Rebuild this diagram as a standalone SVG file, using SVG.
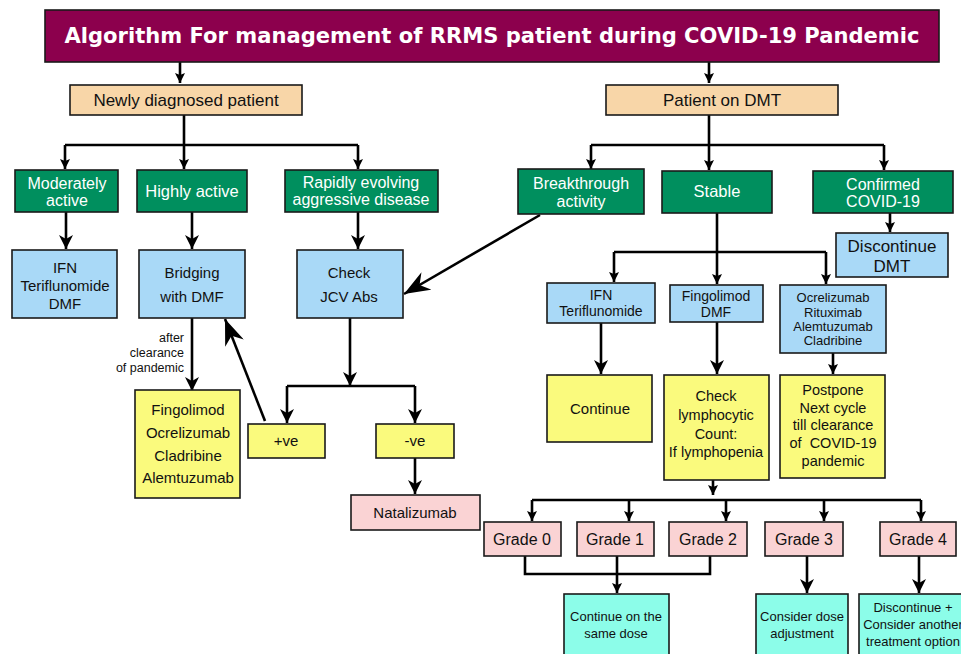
<svg xmlns="http://www.w3.org/2000/svg" width="961" height="654" viewBox="0 0 961 654">
<style>
.b{stroke:#1a1a1a;stroke-width:1.6}
.hd{fill:#8C004D}
.pe{fill:#F8D6A8}
.gr{fill:#008F5E}
.bl{fill:#A9D9F7}
.ye{fill:#FAFA7D}
.pk{fill:#FAD3D4}
.cy{fill:#8CFDE9}
text{font-family:"Liberation Sans",Arial,sans-serif;text-anchor:middle;fill:#111}
.w{fill:#fff}
.r{text-anchor:end}
.c path{fill:none;stroke:#000;stroke-width:2.6}
</style>
<defs>
<marker id="big" viewBox="0 0 14 14" refX="14" refY="7" markerWidth="14" markerHeight="14" markerUnits="userSpaceOnUse" orient="auto"><path d="M0,0 L14,7 L0,14 L4,7 z" fill="#000"/></marker>
<marker id="sm" viewBox="0 0 10 10" refX="10" refY="5" markerWidth="10" markerHeight="10" markerUnits="userSpaceOnUse" orient="auto"><path d="M0,0 L10,5 L0,10 L2,5 z" fill="#000"/></marker>
<marker id="hg" viewBox="0 0 26 20" refX="26" refY="10" markerWidth="26" markerHeight="20" markerUnits="userSpaceOnUse" orient="auto"><path d="M0,0 L26,10 L0,20 L8,10 z" fill="#000"/></marker>
</defs>

<g class="c">
<path d="M180,62 V83" marker-end="url(#sm)"/>
<path d="M709,62 V83" marker-end="url(#sm)"/>
<path d="M184,115 V145"/>
<path d="M65,145 H358"/>
<path d="M65,145 V169" marker-end="url(#sm)"/>
<path d="M184,145 V169" marker-end="url(#sm)"/>
<path d="M358,145 V169" marker-end="url(#sm)"/>
<path d="M709,115 V145"/>
<path d="M591,145 H884"/>
<path d="M591,145 V169" marker-end="url(#sm)"/>
<path d="M709,145 V170" marker-end="url(#sm)"/>
<path d="M884,145 V170" marker-end="url(#sm)"/>
<path d="M66,212 V249" marker-end="url(#big)"/>
<path d="M192,212 V249" marker-end="url(#big)"/>
<path d="M358,212 V249" marker-end="url(#big)"/>
<path d="M540,215 L404,294" stroke-width="3.2" marker-end="url(#hg)"/>
<path d="M890,213 V232" marker-end="url(#sm)"/>
<path d="M717,213 V252"/>
<path d="M614,252 H826"/>
<path d="M614,252 V282" marker-end="url(#sm)"/>
<path d="M717,252 V284" marker-end="url(#sm)"/>
<path d="M826,252 V284" marker-end="url(#sm)"/>
<path d="M601,323 V374" marker-end="url(#big)"/>
<path d="M717,322 V374" marker-end="url(#big)"/>
<path d="M833,353 V374" marker-end="url(#sm)"/>
<path d="M713,480 V495" marker-end="url(#sm)"/>
<path d="M532,500 H921"/>
<path d="M532,500 V521" marker-end="url(#sm)"/>
<path d="M629,500 V521" marker-end="url(#sm)"/>
<path d="M726,500 V521" marker-end="url(#sm)"/>
<path d="M824,500 V521" marker-end="url(#sm)"/>
<path d="M921,500 V521" marker-end="url(#sm)"/>
<path d="M525,556 V574 H710 V556" stroke-width="3.4"/>
<path d="M617,556 V593" marker-end="url(#sm)"/>
<path d="M807,556 V593" marker-end="url(#big)"/>
<path d="M919,556 V593" marker-end="url(#big)"/>
<path d="M192,318 V391" marker-end="url(#big)"/>
<path d="M265,421 L225,319" stroke-width="3.2" marker-end="url(#hg)"/>
<path d="M350,318 V386" marker-end="url(#big)"/>
<path d="M287,386 H415"/>
<path d="M287,386 V423" marker-end="url(#big)"/>
<path d="M415,386 V423" marker-end="url(#big)"/>
<path d="M415,458 V494" marker-end="url(#big)"/>
</g>

<g id="header"><rect class="b hd" x="45" y="10" width="894" height="52"/>
<text class="w" x="492" y="43" font-size="22" font-weight="bold" style="font-family:'DejaVu Sans',sans-serif" textLength="855" lengthAdjust="spacingAndGlyphs">Algorithm For management of RRMS patient during COVID-19 Pandemic</text></g>

<g id="newly"><rect class="b pe" x="70" y="85" width="232" height="30"/><text x="186" y="106" font-size="17">Newly diagnosed patient</text></g>
<g id="ondmt"><rect class="b pe" x="606" y="85" width="232" height="30"/><text x="722" y="106" font-size="17">Patient on DMT</text></g>

<g id="moderately"><rect class="b gr" x="15" y="170" width="103" height="42"/><text class="w" x="67" y="189" font-size="16">Moderately</text><text class="w" x="67" y="206" font-size="16">active</text></g>
<g id="highly"><rect class="b gr" x="137" y="170" width="110" height="42"/><text class="w" x="192" y="197" font-size="16.5">Highly active</text></g>
<g id="rapidly"><rect class="b gr" x="285" y="170" width="153" height="42"/><text class="w" x="361" y="188" font-size="16">Rapidly evolving</text><text class="w" x="361" y="205" font-size="16">aggressive disease</text></g>

<g id="ifn1"><rect class="b bl" x="12" y="250" width="105" height="68"/><text x="65" y="273" font-size="15">IFN</text><text x="65" y="291" font-size="15">Teriflunomide</text><text x="65" y="309" font-size="15">DMF</text></g>
<g id="bridging"><rect class="b bl" x="139" y="250" width="106" height="68"/><text x="192" y="278" font-size="15">Bridging</text><text x="192" y="302" font-size="15">with DMF</text></g>
<g id="jcv"><rect class="b bl" x="297" y="250" width="106" height="68"/><text x="349" y="278" font-size="15">Check</text><text x="349" y="302" font-size="15">JCV Abs</text></g>

<g id="afterlabel"><text class="r" x="184" y="342" font-size="12.5">after</text><text class="r" x="184" y="357" font-size="12.5">clearance</text><text class="r" x="184" y="372" font-size="12.5">of pandemic</text></g>

<g id="fingo1"><rect class="b ye" x="135" y="390" width="105" height="108"/><text x="188" y="415" font-size="15">Fingolimod</text><text x="188" y="438" font-size="15">Ocrelizumab</text><text x="188" y="461" font-size="15">Cladribine</text><text x="188" y="483" font-size="15">Alemtuzumab</text></g>
<g id="pos"><rect class="b ye" x="248" y="424" width="77" height="34"/><text x="286" y="446" font-size="15">+ve</text></g>
<g id="neg"><rect class="b ye" x="376" y="424" width="78" height="34"/><text x="415" y="446" font-size="15">-ve</text></g>
<g id="natalizumab"><rect class="b pk" x="351" y="495" width="129" height="35"/><text x="415" y="518" font-size="15">Natalizumab</text></g>

<g id="breakthrough"><rect class="b gr" x="518" y="169" width="126" height="45"/><text class="w" x="581" y="189" font-size="16">Breakthrough</text><text class="w" x="581" y="207" font-size="16">activity</text></g>
<g id="stable"><rect class="b gr" x="662" y="171" width="110" height="42"/><text class="w" x="717" y="197" font-size="16.5">Stable</text></g>
<g id="confirmed"><rect class="b gr" x="813" y="171" width="140" height="42"/><text class="w" x="883" y="190" font-size="16">Confirmed</text><text class="w" x="883" y="207" font-size="16">COVID-19</text></g>
<g id="discdmt"><rect class="b bl" x="836" y="233" width="112" height="44"/><text x="892" y="252" font-size="17">Discontinue</text><text x="892" y="272" font-size="17">DMT</text></g>

<g id="ifn2"><rect class="b bl" x="547" y="283" width="108" height="40"/><text x="601" y="300" font-size="14">IFN</text><text x="601" y="316" font-size="14">Teriflunomide</text></g>
<g id="fingo2"><rect class="b bl" x="670" y="285" width="93" height="37"/><text x="716" y="301" font-size="14">Fingolimod</text><text x="716" y="317" font-size="14">DMF</text></g>
<g id="ocre"><rect class="b bl" x="780" y="285" width="106" height="68"/><text x="833" y="302" font-size="13">Ocrelizumab</text><text x="833" y="317" font-size="13">Rituximab</text><text x="833" y="331" font-size="13">Alemtuzumab</text><text x="833" y="345" font-size="13">Cladribine</text></g>

<g id="continue"><rect class="b ye" x="547" y="375" width="105" height="67"/><text x="600" y="414" font-size="15">Continue</text></g>
<g id="lympho"><rect class="b ye" x="664" y="375" width="105" height="105"/><text x="716" y="401" font-size="14.5">Check</text><text x="716" y="420" font-size="14.5">lymphocytic</text><text x="716" y="439" font-size="14.5">Count:</text><text x="716" y="457" font-size="14.5">If lymphopenia</text></g>
<g id="postpone"><rect class="b ye" x="780" y="375" width="105" height="103"/><text x="833" y="395" font-size="14.5">Postpone</text><text x="833" y="413" font-size="14.5">Next cycle</text><text x="833" y="430" font-size="14.5">till clearance</text><text x="833" y="448" font-size="14.5" xml:space="preserve">of  COVID-19</text><text x="833" y="466" font-size="14.5">pandemic</text></g>

<g id="g0"><rect class="b pk" x="484" y="522" width="77" height="34"/><text x="522" y="545" font-size="16">Grade 0</text></g>
<g id="g1"><rect class="b pk" x="577" y="522" width="77" height="34"/><text x="615" y="545" font-size="16">Grade 1</text></g>
<g id="g2"><rect class="b pk" x="669" y="522" width="78" height="34"/><text x="708" y="545" font-size="16">Grade 2</text></g>
<g id="g3"><rect class="b pk" x="765" y="522" width="78" height="34"/><text x="804" y="545" font-size="16">Grade 3</text></g>
<g id="g4"><rect class="b pk" x="880" y="522" width="76" height="34"/><text x="918" y="545" font-size="16">Grade 4</text></g>

<g id="samedose"><rect class="b cy" x="564" y="594" width="105" height="62"/><text x="616" y="621" font-size="13">Continue on the</text><text x="616" y="638" font-size="13">same dose</text></g>
<g id="doseadj"><rect class="b cy" x="756" y="594" width="92" height="62"/><text x="802" y="621" font-size="13">Consider dose</text><text x="802" y="638" font-size="13">adjustment</text></g>
<g id="discother"><rect class="b cy" x="859" y="594" width="110" height="62"/><text x="913" y="612" font-size="13">Discontinue +</text><text x="913" y="629" font-size="13">Consider another</text><text x="913" y="646" font-size="13">treatment option</text></g>
</svg>
